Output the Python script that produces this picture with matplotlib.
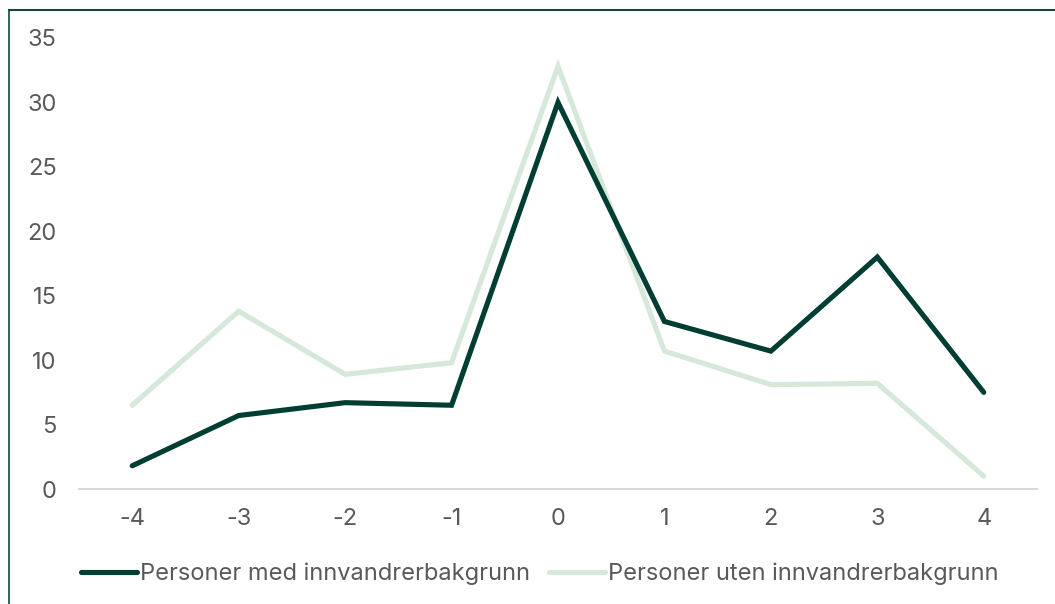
import matplotlib
matplotlib.use("Agg")
import matplotlib.pyplot as plt
from matplotlib.lines import Line2D

plt.rcParams['font.family'] = ['Inter', 'DejaVu Sans']

# år relativt til hendelsen
years = [-4, -3, -2, -1, 0, 1, 2, 3, 4]
med_innv = [1.8, 5.7, 6.7, 6.5, 30.0, 13.0, 10.7, 18.0, 7.5]
uten_innv = [6.5, 13.8, 8.9, 9.8, 32.8, 10.7, 8.1, 8.2, 1.0]
yticks = [0, 5, 10, 15, 20, 25, 30, 35]

dark = '#003d33'
light = '#d5e8da'
grey = '#595959'

W, H = 1055, 604
fig = plt.figure(figsize=(W / 100, H / 100), dpi=100)

# ramme rundt figuren (venstre og topp)
fig.add_artist(Line2D([9 / W, 9 / W], [0, 1 - 10 / H], color='#0d4a40', lw=1.2,
                      transform=fig.transFigure))
fig.add_artist(Line2D([9 / W, 1], [1 - 10 / H, 1 - 10 / H], color='#0d4a40', lw=1.5,
                      transform=fig.transFigure))

ax = fig.add_axes([79 / W, 1 - 489 / H, (1037 - 79) / W, (489 - 38) / H])
ax.plot(years, med_innv, color=dark, lw=3.7, solid_capstyle='round',
        solid_joinstyle='miter', label='Personer med innvandrerbakgrunn', zorder=3)
ax.plot(years, uten_innv, color=light, lw=3.7, solid_capstyle='round',
        solid_joinstyle='miter', label='Personer uten innvandrerbakgrunn', zorder=2)

ax.set_xlim(-4.5, 4.5)
ax.set_ylim(0, 35)
ax.set_xticks(years)
ax.set_xticklabels([str(y) for y in years])
ax.set_yticks(yticks)
for s in ['top', 'right', 'left']:
    ax.spines[s].set_visible(False)
ax.spines['bottom'].set_color('#d9d9d9')
ax.spines['bottom'].set_linewidth(1.5)
ax.tick_params(axis='both', length=0, labelsize=17, colors=grey)
ax.tick_params(axis='x', pad=14)
ax.tick_params(axis='y', pad=16)

fig.legend(loc='center', bbox_to_anchor=(0.512, 1 - 574 / H), ncol=2, frameon=False,
           fontsize=17, labelcolor=grey, handlelength=2.35, handletextpad=0.15,
           columnspacing=0.8, borderaxespad=0)

fig.savefig('out.png', dpi=100)
